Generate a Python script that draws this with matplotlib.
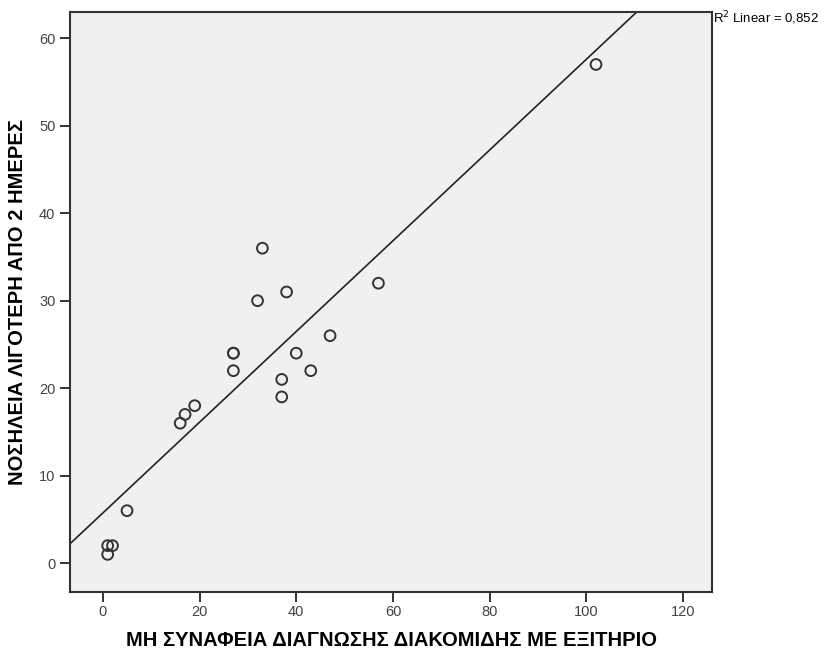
import numpy as np
import matplotlib.pyplot as plt

plt.rcParams['font.family'] = ['Liberation Sans', 'DejaVu Sans']

# values
x_vals = [102, 57, 33, 38, 32, 47, 27, 27, 40, 27, 37, 43, 37, 19, 17, 16, 5, 1, 2, 1]
y_vals = [57, 32, 36, 31, 30, 26, 24, 24, 24, 22, 21, 22, 19, 18, 17, 16, 6, 2, 2, 1]
x_ticks = [0, 20, 40, 60, 80, 100, 120]
y_ticks = [0, 10, 20, 30, 40, 50, 60]
r2_label = "R$^2$ Linear = 0,852"
x_label = "ΜΗ ΣΥΝΑΦΕΙΑ ΔΙΑΓΝΩΣΗΣ ΔΙΑΚΟΜΙΔΗΣ ΜΕ ΕΞΙΤΗΡΙΟ"
y_label = "ΝΟΣΗΛΕΙΑ ΛΙΓΟΤΕΡΗ ΑΠΟ 2 ΗΜΕΡΕΣ"

fig = plt.figure(figsize=(8.27, 6.52), dpi=100)
ax = fig.add_axes([0.0846, 0.092, 0.7764, 0.8896])
ax.set_facecolor('#f0f0f0')

ax.scatter(x_vals, y_vals, s=60, facecolors='none', edgecolors='#333333', linewidths=1.4, zorder=3)

# least squares line
slope, icpt = np.polyfit(x_vals, y_vals, 1)
xl = np.array([-10, 130])
ax.plot(xl, slope * xl + icpt, color='#222222', lw=1.2, zorder=2)

ax.set_xlim(-6.8, 126)
ax.set_ylim(-3.3, 63)
ax.set_xticks(x_ticks)
ax.set_yticks(y_ticks)
ax.tick_params(direction='out', length=7, width=1.4, color='#333333',
               labelsize=10.5, labelcolor='#444444')
ax.tick_params(axis='x', pad=2)
for s in ax.spines.values():
    s.set_linewidth(1.5)
    s.set_color('#333333')

ax.set_xlabel(x_label, fontsize=14.5, fontweight='bold', labelpad=9)
ax.set_ylabel(y_label, fontsize=14.5, fontweight='bold', labelpad=9)

fig.text(0.862, 0.972, r2_label, fontsize=9.5, va='center', ha='left')

fig.savefig('out.png', dpi=100)
